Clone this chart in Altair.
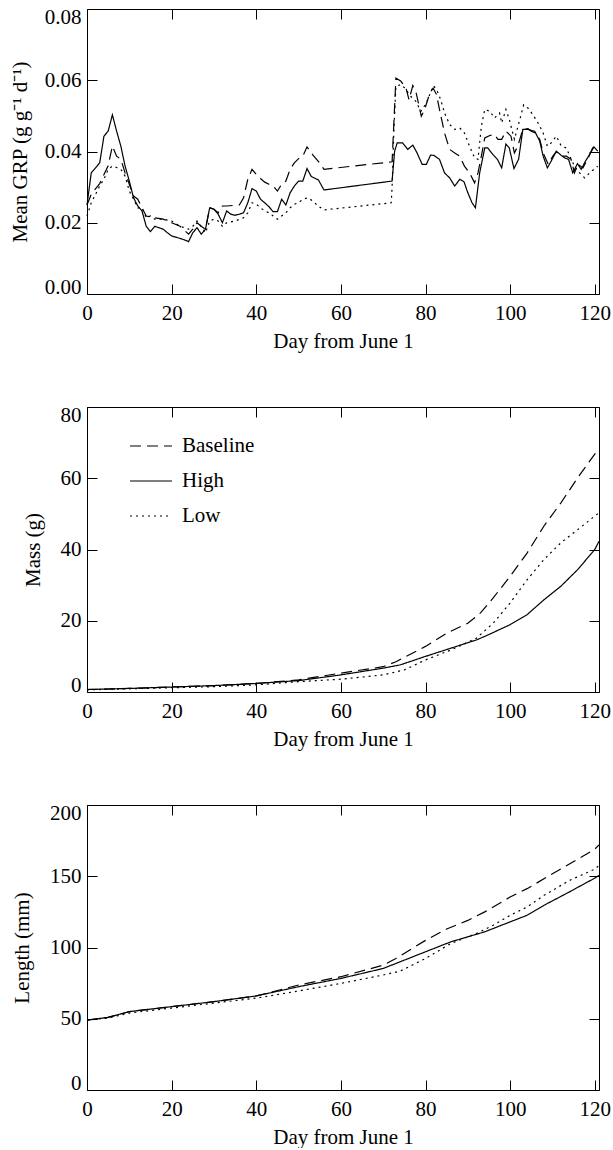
import altair as alt
import pandas as pd

# ---------------- data ----------------
series_names = ["Baseline", "High", "Low"]

grp_high_day = [0, 1, 3, 4, 5, 6, 7, 8, 9, 10, 11, 12, 13, 14, 15, 16, 17, 18, 19, 20, 22, 23, 24, 25, 26, 27, 28, 29, 30,
                31, 32, 33, 34, 35, 36, 37, 38, 39, 40, 41, 42, 43, 44, 45, 46, 47, 48, 49, 50, 51, 52, 53, 54.7, 56,
                72.1, 72.7, 73.3, 74.6, 75.8, 77, 78, 79.2, 80.2, 81.2, 82, 83.3, 84.5, 85.7, 86.9, 88.1, 89.1, 90, 91,
                91.8, 92.8, 94, 94.7, 95.9, 97, 98, 99, 99.8, 100.9, 102, 103, 104.2, 105.8, 107, 107.8, 108.8, 109.7,
                110.9, 112.1, 112.9, 113.8, 114.8, 115.9, 116.8, 117.8, 118.8, 119.8, 120.7]
grp_high_val = [0.025, 0.034, 0.0368, 0.0443, 0.0457, 0.0503, 0.0457, 0.0415, 0.0359, 0.0317, 0.027, 0.0247, 0.0233,
                0.019, 0.0175, 0.019, 0.0186, 0.0182, 0.0172, 0.0163, 0.0156, 0.0152, 0.0147, 0.0172, 0.0186, 0.0168,
                0.0182, 0.0242, 0.0238, 0.0224, 0.02, 0.0233, 0.0224, 0.0221, 0.0224, 0.0228, 0.0256, 0.0296, 0.0289,
                0.0266, 0.0256, 0.0245, 0.0231, 0.0231, 0.0266, 0.025, 0.0284, 0.0303, 0.0317, 0.0317, 0.0352, 0.033,
                0.032, 0.0292, 0.0317, 0.0401, 0.0424, 0.0424, 0.0406, 0.0418, 0.0396, 0.0364, 0.0364, 0.039, 0.0389,
                0.0378, 0.034, 0.0326, 0.0303, 0.0322, 0.0315, 0.0284, 0.0256, 0.0242, 0.034, 0.041, 0.041, 0.0392,
                0.0378, 0.0354, 0.0421, 0.041, 0.0352, 0.0378, 0.0462, 0.0462, 0.0457, 0.0429, 0.0387, 0.0354, 0.0373,
                0.0401, 0.0389, 0.0382, 0.0378, 0.034, 0.0366, 0.035, 0.0373, 0.0392, 0.0413, 0.0401]

grp_base_day = [0, 1, 3, 5, 6, 7, 8, 9, 10, 11, 12, 13, 14, 16, 18, 20, 22, 24, 25, 26, 27, 28, 29, 30, 31, 32, 33, 35,
                36, 37, 38, 39, 40, 41, 42, 43, 44, 45, 46, 47, 48, 49, 50, 51, 52, 53.4, 55, 56, 72.1, 73, 74.2, 75.4,
                76.1, 77, 77.8, 79, 79.8, 81, 81.8, 82.6, 83.3, 84.5, 85.7, 86.9, 88.1, 89.2, 90.4, 91.6, 92.4, 93.2, 94,
                95.2, 96.3, 97.1, 98, 99, 100.2, 101, 101.8, 103, 104.2, 105, 106, 107, 107.8, 109, 110.1, 110.9, 112.1,
                113.3, 114.4, 115.2, 116, 117.2, 118.3, 119.5, 120.7]
grp_base_val = [0.025, 0.028, 0.031, 0.036, 0.0415, 0.0387, 0.0378, 0.034, 0.0308, 0.0275, 0.0266, 0.0242, 0.0219,
                0.0214, 0.021, 0.02, 0.019, 0.0168, 0.0182, 0.02, 0.019, 0.0182, 0.0242, 0.0238, 0.0228, 0.0247, 0.0247,
                0.0249, 0.025, 0.027, 0.0322, 0.035, 0.0336, 0.0324, 0.0314, 0.0308, 0.0303, 0.0289, 0.0308, 0.0317,
                0.035, 0.0368, 0.038, 0.0387, 0.0413, 0.039, 0.0368, 0.035, 0.0371, 0.0606, 0.0597, 0.0578, 0.0545,
                0.0585, 0.0564, 0.0499, 0.0518, 0.0564, 0.0578, 0.056, 0.0518, 0.0452, 0.0406, 0.0396, 0.0387, 0.0359,
                0.034, 0.0312, 0.034, 0.0387, 0.0438, 0.0445, 0.0448, 0.0434, 0.0434, 0.0457, 0.0443, 0.0396, 0.0415,
                0.0462, 0.0464, 0.0457, 0.0452, 0.0434, 0.0396, 0.0364, 0.0387, 0.0399, 0.0387, 0.0387, 0.0378, 0.034,
                0.0364, 0.0354, 0.0378, 0.041, 0.0401]

grp_low_day = [0, 1, 3, 4, 5, 6, 7, 8, 9, 10, 11, 12, 13, 14, 15, 16, 18, 20, 22, 24, 25, 26, 27, 28, 29, 30, 31, 32, 33,
               35, 37, 38, 39, 40, 41, 42, 43, 44, 45, 46, 47, 48, 49, 50, 51, 52.2, 53.4, 54.6, 56, 71.9, 72.1, 72.5,
               73, 74.2, 75.1, 76.5, 77.7, 78.9, 80.2, 81, 81.9, 82.8, 83.6, 84.5, 85.7, 86.9, 88.1, 89.2, 90.4, 91.6,
               92.4, 93.2, 94, 95.2, 96.3, 97.5, 98, 99, 99.8, 101, 102.3, 103.2, 104.2, 105.4, 106.6, 107.8, 108.8,
               109.7, 110.9, 112.1, 113.3, 114.1, 115.2, 116.4, 117.6, 118.8, 119.8, 120.7]
grp_low_val = [0.0219, 0.0256, 0.0303, 0.0322, 0.035, 0.0359, 0.0355, 0.035, 0.0331, 0.0289, 0.0266, 0.0242, 0.0242,
               0.0214, 0.0219, 0.021, 0.021, 0.0205, 0.019, 0.0182, 0.019, 0.0205, 0.0189, 0.0172, 0.0205, 0.021, 0.0205,
               0.019, 0.02, 0.0205, 0.0214, 0.0228, 0.0256, 0.0252, 0.0242, 0.0233, 0.0228, 0.0219, 0.021, 0.0219,
               0.0228, 0.0242, 0.0252, 0.0256, 0.0266, 0.027, 0.0261, 0.0247, 0.0236, 0.0256, 0.03, 0.045, 0.0583,
               0.0588, 0.0578, 0.0555, 0.0541, 0.0513, 0.0536, 0.056, 0.0585, 0.0569, 0.0545, 0.0508, 0.0476, 0.0462,
               0.0466, 0.0452, 0.0415, 0.0382, 0.0378, 0.0471, 0.0518, 0.0513, 0.0494, 0.0508, 0.048, 0.0518, 0.049,
               0.0434, 0.049, 0.0531, 0.0522, 0.0503, 0.048, 0.0452, 0.0415, 0.0424, 0.0443, 0.0415, 0.041, 0.0387,
               0.0359, 0.034, 0.0326, 0.034, 0.035, 0.0359]

mass_base_day = [0, 10, 20, 30, 40, 50, 60, 70, 73, 80, 85, 90, 93, 96, 100, 104, 108, 112, 116, 120, 121]
mass_base_val = [0.7, 1.0, 1.4, 1.8, 2.4, 3.4, 5.3, 7.1, 8.5, 12.8, 16.5, 19.3, 22.2, 26.4, 32.5, 39.0, 46.6, 53.1,
                 60.2, 66.8, 68.2]
mass_high_day = [0, 10, 20, 30, 40, 50, 60, 70, 74, 80, 86, 92, 94, 100, 104, 108, 112, 116, 120, 121]
mass_high_val = [0.7, 1.0, 1.4, 1.8, 2.4, 3.2, 4.8, 6.7, 7.6, 10.0, 12.3, 14.6, 15.6, 18.9, 21.7, 25.9, 29.7, 34.4,
                 40.0, 42.3]
mass_low_day = [0, 10, 20, 30, 40, 50, 60, 70, 75, 80, 86, 92, 96, 100, 104, 108, 112, 116, 120, 121]
mass_low_val = [0.6, 0.9, 1.2, 1.5, 2.0, 2.9, 3.6, 4.8, 6.2, 9.0, 11.8, 15.1, 19.3, 25.0, 31.5, 37.2, 41.9, 45.6,
                49.4, 50.3]

len_base_day = [0, 5, 10, 20, 30, 40, 50, 60, 70, 73, 80, 85, 90, 94, 100, 104, 110, 116, 120, 121]
len_base_val = [49, 51, 55, 58.5, 62, 66, 73.7, 79.5, 87.6, 92.3, 105, 113, 119, 125, 135.4, 141.3, 151.7, 162, 169,
                172]
len_high_day = [0, 5, 10, 20, 30, 40, 50, 60, 70, 73, 80, 86, 94, 100, 104, 108, 114, 120, 121]
len_high_val = [49, 51, 55, 58.5, 62, 66, 72.5, 78.3, 85.3, 88.8, 97, 104, 111, 118, 122.6, 129.6, 139, 148.7, 150.6]
len_low_day = [0, 5, 10, 20, 30, 40, 50, 60, 70, 74, 80, 86, 92, 96, 100, 104, 108, 114, 120, 121]
len_low_val = [49, 50.5, 54, 57.5, 61, 64.5, 69.5, 74.8, 80.7, 83.4, 92.3, 102.8, 109.8, 115.6, 122.6, 128.4, 136.6,
               147, 155, 157.6]

x_ticks = [0, 20, 40, 60, 80, 100, 120]
grp_ticks = [0.0, 0.02, 0.04, 0.06, 0.08]
mass_ticks = [0, 20, 40, 60, 80]
len_ticks = [0, 50, 100, 150, 200]


def frame(pairs):
    rows = []
    for name, days, vals in pairs:
        for d, v in zip(days, vals):
            rows.append({"day": d, "value": v, "series": name})
    return pd.DataFrame(rows)


grp_df = frame([("Baseline", grp_base_day, grp_base_val), ("High", grp_high_day, grp_high_val),
                ("Low", grp_low_day, grp_low_val)])
mass_df = frame([("Baseline", mass_base_day, mass_base_val), ("High", mass_high_day, mass_high_val),
                 ("Low", mass_low_day, mass_low_val)])
len_df = frame([("Baseline", len_base_day, len_base_val), ("High", len_high_day, len_high_val),
                ("Low", len_low_day, len_low_val)])

# ---------------- styling ----------------
FONT = "Liberation Serif"
FS = 21
W, H = 512, 285
XMAX = 121.0

dash_scale = alt.Scale(domain=series_names, range=[[11, 6], [1, 0], [2, 4]])


def panel(df, ymax, yticks, yfmt, ytitle, title_x, legend):
    xs = alt.Scale(domain=[0, XMAX], nice=False)
    ys = alt.Scale(domain=[0, ymax], nice=False)
    base_axis = dict(domain=False, grid=False, ticks=True, tickSize=10, tickColor="black", tickWidth=1,
                     offset=-10, labelFont=FONT, labelFontSize=FS, labelColor="black",
                     titleFont=FONT, titleFontSize=FS, titleColor="black", titleFontWeight="normal")
    x_axis = alt.Axis(values=x_ticks, title="Day from June 1", labelPadding=8, titleY=46.5, labelFlush=False,
                      **base_axis)
    y_axis = alt.Axis(values=yticks, format=yfmt, title=ytitle, labelPadding=6, titleX=title_x,
                      labelFlush=True, labelFlushOffset=3, **base_axis)
    lines = alt.Chart(df).mark_line(color="black", strokeWidth=1.2).encode(
        x=alt.X("day:Q", scale=xs, axis=x_axis),
        y=alt.Y("value:Q", scale=ys, axis=y_axis),
        strokeDash=alt.StrokeDash("series:N", scale=dash_scale, legend=legend),
    )
    mirror_axis = dict(domain=False, grid=False, ticks=True, tickSize=10, tickColor="black", tickWidth=1,
                       offset=-10, labels=False, title=None)
    mirror = alt.Chart(df).mark_line(opacity=0).encode(
        x=alt.X("day:Q", scale=xs, axis=alt.Axis(orient="top", values=x_ticks, **mirror_axis)),
        y=alt.Y("value:Q", scale=ys, axis=alt.Axis(orient="right", values=yticks, **mirror_axis)),
        detail="series:N",
    )
    return alt.layer(lines, mirror).resolve_axis(x="independent", y="independent").properties(width=W, height=H)


legend = alt.Legend(orient="none", legendX=42, legendY=17, title=None, symbolType="stroke", symbolSize=1764,
                    symbolStrokeWidth=1.2, symbolStrokeColor="black", labelFont=FONT, labelFontSize=FS,
                    labelColor="black", labelOffset=9, rowPadding=3, padding=0)

p1 = panel(grp_df, 0.08, grp_ticks, ".2f", "Mean GRP (g g\u207b\u00b9 d\u207b\u00b9)", -66.5, None)
p2 = panel(mass_df, 80, mass_ticks, "d", "Mass (g)", -53.5, legend)
p3 = panel(len_df, 200, len_ticks, "d", "Length (mm)", -64.5, None)

chart = alt.vconcat(p1, p2, p3, spacing=113, bounds="flush").resolve_scale(
    strokeDash="independent"
).resolve_legend(strokeDash="independent").properties(
    padding={"left": 8, "top": 5, "right": 0, "bottom": 0},
    background="white",
).configure_view(stroke="black", strokeWidth=1)

chart.save("out.html", embed_options={"renderer": "svg", "actions": False})
